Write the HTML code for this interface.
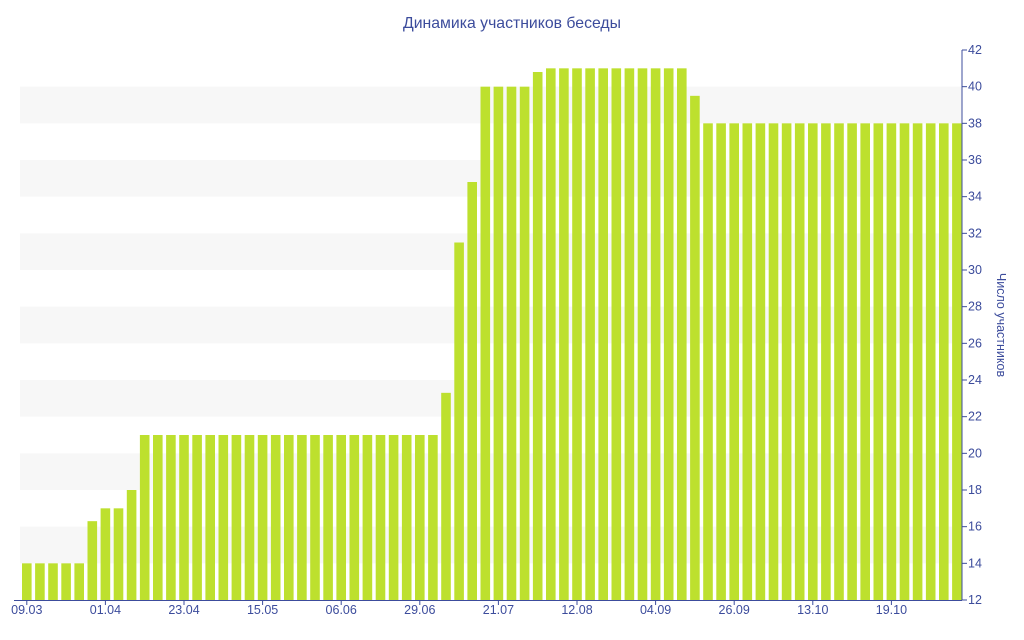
<!DOCTYPE html><html><head><meta charset="utf-8"><style>body{margin:0;background:#fff}svg{display:block;font-family:"Liberation Sans","DejaVu Sans",sans-serif}</style></head><body>
<svg width="1024" height="640" xmlns="http://www.w3.org/2000/svg">
<text x="512" y="28" text-anchor="middle" font-size="15.8" fill="#3c4c9c">Динамика участников беседы</text>
<g fill="#f7f7f7" id="bands"></g>
<g fill="#bde02e" id="bars"></g>
<line x1="962" y1="50" x2="962" y2="600" stroke="#3c4c9c"/>
<line x1="14" y1="600.5" x2="962" y2="600.5" stroke="#3c4c9c"/>
<g id="yt" font-size="12.5" fill="#3c4c9c" stroke="#3c4c9c"></g>
<g id="xt" font-size="12.5" fill="#3c4c9c" text-anchor="middle"></g>
<text transform="translate(997,325) rotate(90)" text-anchor="middle" font-size="12.5" fill="#3c4c9c">Число участников</text>
<script>
var ns="http://www.w3.org/2000/svg";function el(t,a,p,txt){var e=document.createElementNS(ns,t);for(var k in a)e.setAttribute(k,a[k]);if(txt)e.textContent=txt;document.getElementById(p).appendChild(e);}
function Y(v){return 600-(v-12)*550/30;}
for(var v=14;v<=38;v+=4)el("rect",{x:20,y:Y(v+2),width:942,height:Y(v)-Y(v+2)},"bands");
var d=[14,14,14,14,14,16.3,17,17,18];for(var i=9;i<=31;i++)d.push(21);d.push(23.3,31.5,34.8,40,40,40,40,40.8);for(i=40;i<=50;i++)d.push(41);d.push(39.5);for(i=52;i<72;i++)d.push(38);
d.forEach(function(v,i){var x=22+13.1*i;el("rect",{x:x,y:Y(v),width:9.6,height:600-Y(v)},"bars");});
for(v=12;v<=42;v+=2){var y=Y(v);el("line",{x1:962,y1:y,x2:967,y2:y},"yt");el("text",{x:968,y:y+4,stroke:"none"},"yt",String(v));}
var L=["09.03","01.04","23.04","15.05","06.06","29.06","21.07","12.08","04.09","26.09","13.10","19.10"];
L.forEach(function(s,i){var x=26.8+13.1*6*i;el("line",{x1:x,y1:600,x2:x,y2:605,stroke:"#3c4c9c"},"xt");el("text",{x:x,y:614},"xt",s);});
</script>
</svg></body></html>
